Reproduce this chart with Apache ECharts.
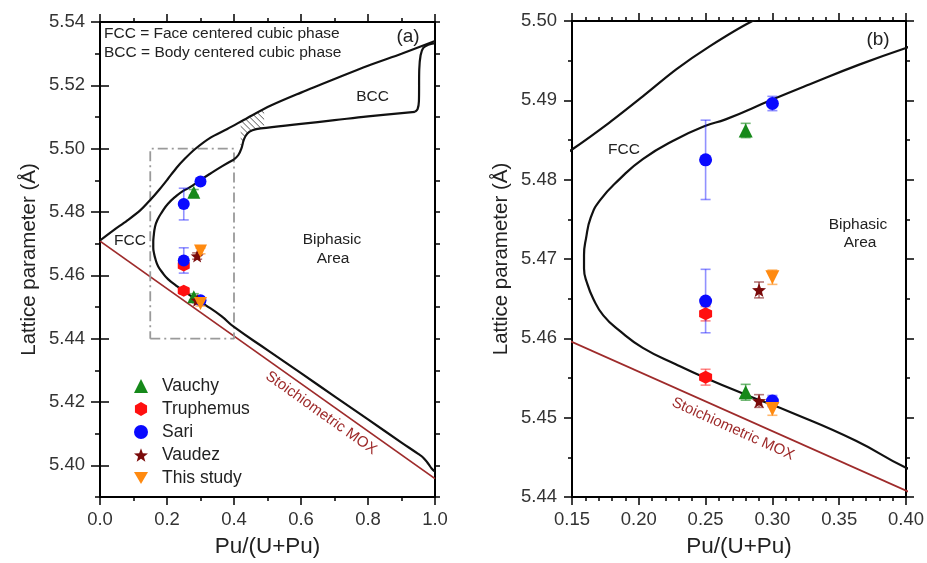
<!DOCTYPE html>
<html><head><meta charset="utf-8">
<script src="https://cdn.jsdelivr.net/npm/echarts@6/dist/echarts.min.js"></script>
<style>html,body{margin:0;padding:0;background:#fff}#c{width:927px;height:563px}</style>
</head><body><div id="c"></div><script>
// ---------- data ----------
const upperX = [0, 0.04, 0.08, 0.12, 0.15, 0.178, 0.203, 0.228, 0.253, 0.284, 0.33, 0.38, 0.44, 0.51, 0.60, 0.70, 0.80, 0.90, 1.0];
const upperY = [5.4710, 5.4742, 5.4772, 5.4805, 5.4838, 5.4872, 5.4905, 5.4939, 5.4968, 5.4999, 5.5035, 5.5062, 5.5097, 5.5136, 5.5177, 5.5220, 5.5262, 5.5300, 5.5340];
const innerX = [1.0, 0.99, 0.98, 0.965, 0.95, 0.90, 0.80, 0.70, 0.60, 0.50, 0.40, 0.3625, 0.315, 0.28, 0.25, 0.228, 0.203, 0.186, 0.1734, 0.1659, 0.1612, 0.1590, 0.1590, 0.1605, 0.1640, 0.1709, 0.1858, 0.203, 0.228, 0.25, 0.265, 0.30, 0.3276, 0.365, 0.40, 0.413, 0.422, 0.43, 0.44, 0.455, 0.48, 0.60, 0.70, 0.80, 0.94, 0.948, 0.952, 0.953, 0.957, 0.965, 0.98, 1.0];
const innerY = [5.3980, 5.3990, 5.4005, 5.4024, 5.4036, 5.4072, 5.4145, 5.4218, 5.4291, 5.4364, 5.4437, 5.4471, 5.4506, 5.4529, 5.4550, 5.4567, 5.4588, 5.4609, 5.4629, 5.4650, 5.4670, 5.4688, 5.4705, 5.4726, 5.4752, 5.4774, 5.4801, 5.4826, 5.4851, 5.4868, 5.4876, 5.4901, 5.4920, 5.4945, 5.4966, 5.4980, 5.5000, 5.5030, 5.5048, 5.5058, 5.5064, 5.5078, 5.5090, 5.5102, 5.5116, 5.5125, 5.5150, 5.5250, 5.5295, 5.5318, 5.5328, 5.5333];
const moxX = [0, 1];
const moxY = [5.4708, 5.3958];
const zoomBoxX = [0.15, 0.40];
const zoomBoxY = [5.44, 5.50];
const hatchRangeX = [0.42, 0.49];

const vauchyX = [0.28, 0.28];
const vauchyY = [5.4862, 5.4532];
const vauchyErr = [0.0009, 0.0010];
const truphemusX = [0.25, 0.25];
const truphemusY = [5.4631, 5.4551];
const truphemusErr = [0.0009, 0.0010];
const sariX = [0.25, 0.30, 0.25, 0.30];
const sariY = [5.4825, 5.4896, 5.4647, 5.4521];
const sariErr = [0.0050, 0.0009, 0.0040, 0.0007];
const vaudezX = [0.29, 0.29];
const vaudezY = [5.4661, 5.4521];
const vaudezErr = [0.0010, 0.0008];
const studyX = [0.30, 0.30];
const studyY = [5.4677, 5.4511];
const studyErr = [0.0009, 0.0008];

const legendNames = ['Vauchy', 'Truphemus', 'Sari', 'Vaudez', 'This study'];
const xTicksA = [0, 0.2, 0.4, 0.6, 0.8, 1.0];
const yTicksA = [5.40, 5.42, 5.44, 5.46, 5.48, 5.50, 5.52, 5.54];
const xTicksB = [0.15, 0.20, 0.25, 0.30, 0.35, 0.40];
const yTicksB = [5.44, 5.45, 5.46, 5.47, 5.48, 5.49, 5.50];

// ---------- helpers ----------
const FONT = '"Liberation Sans", Arial, sans-serif';
const pairs = (xs, ys) => xs.map((x, i) => [x, ys[i]]);
function interp(xs, ys, x) {
  for (let i = 0; i < xs.length - 1; i++) {
    const a = xs[i], b = xs[i + 1];
    if ((x >= a && x <= b) || (x >= b && x <= a)) {
      const t = (x - a) / (b - a || 1);
      return ys[i] + t * (ys[i + 1] - ys[i]);
    }
  }
  return NaN;
}
// split indices of the inner curve
const iTop40 = innerX.lastIndexOf(0.40);
const iCorner = innerX.indexOf(0.94);
let noseIdx = 0;
innerX.forEach((x, i) => { if (x < innerX[noseIdx]) noseIdx = i; });
const topBrX = innerX.slice(noseIdx + 1, iCorner + 1);
const topBrY = innerY.slice(noseIdx + 1, iCorner + 1);
const innerPts = pairs(innerX, innerY);

// hatch segments between upper curve and the inner top branch
const hatchSegs = [];
(function () {
  const slope = -(335 / (478 / 0.15)); // 45deg in screen space for panel (a)
  for (let c = 5.4995; c < 5.5200; c += 0.0019) {
    let first = null, last = null;
    for (let x = hatchRangeX[0]; x <= hatchRangeX[1] + 1e-9; x += 0.0005) {
      const y = c + slope * (x - hatchRangeX[0]);
      const lo = interp(topBrX, topBrY, x), hi = interp(upperX, upperY, x);
      if (y >= lo && y <= hi) { if (!first) first = [x, y]; last = [x, y]; }
    }
    if (first && last && last[0] - first[0] > 0.002) hatchSegs.push([first[0], first[1], last[0], last[1]]);
  }
})();

const hexPath = 'path://M0,-10L8.66,-5L8.66,5L0,10L-8.66,5L-8.66,-5Z';
const starPath = (function () {
  let s = 'path://';
  for (let k = 0; k < 10; k++) {
    const r = k % 2 ? 4.2 : 10, a = (-90 + k * 36) * Math.PI / 180;
    s += (k ? 'L' : 'M') + (r * Math.cos(a)).toFixed(2) + ',' + (r * Math.sin(a)).toFixed(2);
  }
  return s + 'Z';
})();
const invTriPath = 'path://M-10,-8L10,-8L0,9Z';

const sets = {
  'Vauchy': { x: vauchyX, y: vauchyY, e: vauchyErr, color: '#16891a', err: 'rgba(22,137,26,0.6)', symbol: 'triangle', size: 13 },
  'Truphemus': { x: truphemusX, y: truphemusY, e: truphemusErr, color: '#ff1010', err: 'rgba(255,16,16,0.5)', symbol: hexPath, size: 12 },
  'Sari': { x: sariX, y: sariY, e: sariErr, color: '#0a0aff', err: 'rgba(10,10,255,0.45)', symbol: 'circle', size: 12 },
  'Vaudez': { x: vaudezX, y: vaudezY, e: vaudezErr, color: '#7a0a0a', err: 'rgba(122,10,10,0.55)', symbol: starPath, size: 13 },
  'This study': { x: studyX, y: studyY, e: studyErr, color: '#ff8a10', err: 'rgba(255,138,16,0.6)', symbol: invTriPath, size: 13 }
};
const drawOrder = ['Truphemus', 'Sari', 'Vauchy', 'Vaudez', 'This study'];

// ---------- axes ----------
const tickLine = { color: '#000', width: 1.5 };
function xAxisDef(grid, rng, interval, minorSplit, pos, showLabel, dec) {
  return {
    type: 'value', gridIndex: grid, position: pos, min: rng[0], max: rng[1], interval: interval,
    axisLine: { show: true, onZero: false, lineStyle: { color: '#000', width: 2 } },
    axisTick: { show: true, inside: false, length: 8, lineStyle: tickLine },
    minorTick: { show: true, splitNumber: minorSplit, length: 4, lineStyle: tickLine },
    splitLine: { show: false }, minorSplitLine: { show: false },
    axisLabel: { show: showLabel, fontSize: 18.5, color: '#333', fontFamily: FONT, margin: 13, formatter: v => v.toFixed(dec) },
    name: showLabel ? 'Pu/(U+Pu)' : '', nameLocation: 'middle', nameGap: 38,
    nameTextStyle: { fontSize: 22.5, color: '#222', fontFamily: FONT }
  };
}
function yAxisDef(grid, rng, interval, minorSplit, pos, showLabel, opts) {
  const o = {
    type: 'value', gridIndex: grid, position: pos, min: rng[0], max: rng[1], interval: interval,
    axisLine: { show: true, onZero: false, lineStyle: { color: '#000', width: 2 } },
    axisTick: { show: true, inside: false, length: 8, lineStyle: tickLine },
    minorTick: { show: minorSplit > 1, splitNumber: minorSplit, length: 4, lineStyle: tickLine },
    splitLine: { show: false }, minorSplitLine: { show: false },
    axisLabel: { show: showLabel, fontSize: 18.5, color: '#333', fontFamily: FONT, margin: 15, formatter: v => v.toFixed(2) },
    name: showLabel ? 'Lattice parameter (Å)' : '', nameLocation: 'middle', nameGap: 60,
    nameTextStyle: { fontSize: 20.5, color: '#222', fontFamily: FONT }
  };
  return Object.assign(o, opts || {});
}
const rangeAX = [xTicksA[0], xTicksA[xTicksA.length - 1]];
const rangeAY = [5.39, yTicksA[yTicksA.length - 1]];
const rangeBX = [xTicksB[0], xTicksB[xTicksB.length - 1]];
const rangeBY = [yTicksB[0], yTicksB[yTicksB.length - 1]];

const evenFmt = v => (Math.round(v * 100) % 2 === 0 ? v.toFixed(2) : '');
function aY(pos, showLabel) {
  const base = yAxisDef(0, rangeAY, 0.01, 1, pos, showLabel);
  base.axisTick = { show: true, inside: false, length: 5, lineStyle: tickLine };
  base.axisLabel.customValues = yTicksA;
  base.axisLabel.formatter = evenFmt;
  return base;
}
function aYMajor(pos) {
  return {
    type: 'value', gridIndex: 0, position: pos, min: rangeAY[0], max: rangeAY[1], interval: 0.01,
    axisLine: { show: false }, splitLine: { show: false }, axisLabel: { show: false },
    axisTick: { show: true, inside: false, length: 9, lineStyle: tickLine, customValues: yTicksA }
  };
}

const xAxes = [
  xAxisDef(0, rangeAX, 0.2, 2, 'bottom', true, 1),
  xAxisDef(0, rangeAX, 0.2, 2, 'top', false, 1),
  xAxisDef(1, rangeBX, 0.05, 5, 'bottom', true, 2),
  xAxisDef(1, rangeBX, 0.05, 5, 'top', false, 2)
];
const yAxes = [
  aY('left', true), aYMajor('left'), aY('right', false), aYMajor('right'),
  yAxisDef(1, rangeBY, 0.01, 2, 'left', true),
  yAxisDef(1, rangeBY, 0.01, 2, 'right', false)
];

// ---------- series ----------
const series = [];
const panels = [{ xi: 0, yi: 0, sym: 1.0 }, { xi: 2, yi: 4, sym: 1.05 }];
const blackLine = { color: '#111', width: 2.2 };
panels.forEach((p, pi) => {
  const base = { type: 'line', xAxisIndex: p.xi, yAxisIndex: p.yi, showSymbol: false, clip: true, silent: true, z: 3 };
  series.push(Object.assign({}, base, { data: pairs(moxX, moxY), lineStyle: { color: '#9e2b2b', width: 1.8 }, z: 2 }));
  series.push(Object.assign({}, base, { data: pairs(upperX, upperY), smooth: 0.3, lineStyle: blackLine }));
  series.push(Object.assign({}, base, { data: innerPts.slice(0, iTop40 + 1), smooth: 0.5, lineStyle: blackLine }));
  series.push(Object.assign({}, base, { data: innerPts.slice(iTop40, iCorner + 1), smooth: 0.4, lineStyle: blackLine }));
  series.push(Object.assign({}, base, { data: innerPts.slice(iCorner), smooth: 0.3, lineStyle: blackLine }));
  if (pi === 0) {
    series.push({ type: 'line', xAxisIndex: 0, yAxisIndex: 0, silent: true, showSymbol: false,
      data: [[zoomBoxX[0], zoomBoxY[0]], [zoomBoxX[1], zoomBoxY[0]], [zoomBoxX[1], zoomBoxY[1]], [zoomBoxX[0], zoomBoxY[1]], [zoomBoxX[0], zoomBoxY[0]]],
      lineStyle: { color: '#9a9a9a', width: 1.8, type: [10, 4, 2, 4] }, z: 2 });
    series.push({ type: 'custom', xAxisIndex: 0, yAxisIndex: 0, silent: true, data: hatchSegs, encode: { x: [0, 2], y: [1, 3] },
      renderItem: (params, api) => {
        const a = api.coord([api.value(0), api.value(1)]), b = api.coord([api.value(2), api.value(3)]);
        return { type: 'line', shape: { x1: a[0], y1: a[1], x2: b[0], y2: b[1] }, style: { stroke: '#555', lineWidth: 1 } };
      }, z: 2 });
  }
  drawOrder.forEach(name => {
    const s = sets[name];
    const rows = s.x.map((x, i) => [x, s.y[i], s.e[i]]);
    series.push({ type: 'custom', name: name, xAxisIndex: p.xi, yAxisIndex: p.yi, data: rows, encode: { x: 0, y: 1 }, silent: true,
      itemStyle: { color: s.color },
      renderItem: (params, api) => {
        const x = api.value(0), y = api.value(1), e = api.value(2);
        const t = api.coord([x, y + e]), b = api.coord([x, y - e]);
        const w = 5;
        const st = { stroke: s.err, lineWidth: 1.6 };
        return { type: 'group', children: [
          { type: 'line', shape: { x1: t[0], y1: t[1], x2: b[0], y2: b[1] }, style: st },
          { type: 'line', shape: { x1: t[0] - w, y1: t[1], x2: t[0] + w, y2: t[1] }, style: st },
          { type: 'line', shape: { x1: b[0] - w, y1: b[1], x2: b[0] + w, y2: b[1] }, style: st }
        ] };
      }, z: 4 });
    series.push({ type: 'scatter', name: name, xAxisIndex: p.xi, yAxisIndex: p.yi, data: pairs(s.x, s.y),
      symbol: s.symbol, symbolSize: Math.round(s.size * p.sym), itemStyle: { color: s.color, opacity: 1 }, z: 5 });
  });
});

// ---------- annotations ----------
function txt(text, x, y, size, opts) {
  return Object.assign({ type: 'text', x: x, y: y, silent: true, z: 10,
    style: { text: text, fill: (opts && opts.fill) || '#222', font: size + 'px ' + FONT,
      textAlign: (opts && opts.align) || 'center', textVerticalAlign: 'middle' } }, (opts && opts.el) || {});
}
const graphics = [
  txt('FCC = Face centered cubic phase', 104, 33.5, 15.5, { align: 'left' }),
  txt('BCC = Body centered cubic phase', 104, 53, 15.5, { align: 'left' }),
  txt('(a)', 408, 36.5, 19),
  txt('BCC', 372.5, 97, 15.5),
  txt('FCC', 130, 241, 15.5),
  txt('Biphasic', 332, 240, 15.5),
  txt('Area', 333, 259, 15.5),
  txt('Stoichiometric MOX', 321, 413, 15, { fill: '#9e2b2b', el: { rotation: -35.5 * Math.PI / 180 } }),
  txt('(b)', 878, 40, 19),
  txt('FCC', 624, 149.5, 15.5),
  txt('Biphasic', 858, 225, 15.5),
  txt('Area', 860, 243, 15.5),
  txt('Stoichiometric MOX', 733, 429, 15, { fill: '#9e2b2b', el: { rotation: -24.3 * Math.PI / 180 } })
];

const chart = echarts.init(document.getElementById('c'), null, { renderer: 'canvas' });
chart.setOption({
  animation: false,
  backgroundColor: '#fff',
  textStyle: { fontFamily: FONT },
  grid: [
    { left: 100, top: 22, width: 335, height: 478, containLabel: false },
    { left: 572, top: 21, width: 335, height: 479, containLabel: false }
  ],
  xAxis: xAxes,
  yAxis: yAxes,
  legend: {
    orient: 'vertical', left: 129, top: 372, itemWidth: 14, itemHeight: 14, itemGap: 5,
    selectedMode: false,
    textStyle: { fontSize: 17.5, color: '#222', fontFamily: FONT, padding: [0, 0, 0, 9] },
    data: legendNames.map(n => ({ name: n, icon: sets[n].symbol, itemStyle: { color: sets[n].color } }))
  },
  series: series,
  graphic: graphics
});
</script></body></html>
